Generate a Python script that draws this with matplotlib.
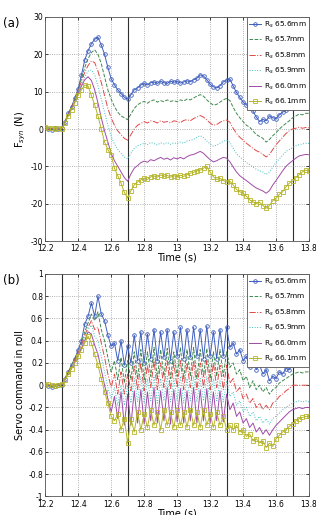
import numpy as np
import matplotlib
matplotlib.use("Agg")
import matplotlib.pyplot as plt

labels = [r"R$_s$ 65.6mm", r"R$_s$ 65.7mm", r"R$_s$ 65.8mm",
          r"R$_s$ 65.9mm", r"R$_s$ 66.0mm", r"R$_s$ 66.1mm"]

# ---- panel (a): F_syn (N), time 12.20 .. 13.80 step 0.02 ----
fa_656 = [0.3, 0.0, -0.2, 0.2, -0.1, 0.2, 2.0, 4.2, 6.0, 8.3, 10.8, 14.5, 18.5, 21.0, 22.8, 24.0, 24.6, 22.5, 20.0, 16.5,
          13.5, 11.8, 10.5, 9.5, 8.5, 8.0, 9.2, 10.5, 11.0, 11.8, 12.2, 11.8, 12.4, 12.6, 12.2, 12.8, 12.4, 12.2, 12.8, 12.5,
          12.8, 12.3, 12.6, 12.9, 12.7, 13.2, 13.6, 14.5, 14.2, 13.2, 12.0, 11.3, 11.0, 11.6, 12.6, 13.2, 13.4, 11.5, 9.8, 8.5,
          7.2, 6.5, 5.5, 4.8, 3.2, 2.0, 2.6, 2.2, 3.5, 3.0, 2.8, 3.8, 4.5, 5.0, 6.2, 6.0, 6.8, 7.2, 6.8, 7.5, 8.2]
fa_657 = [0.0, 0.2, -0.1, 0.1, 0.0, 0.1, 1.8, 4.0, 5.8, 8.0, 10.5, 13.5, 16.5, 18.8, 20.5, 21.2, 20.0, 17.5, 14.0, 10.5,
          8.0, 6.0, 4.5, 3.5, 3.0, 2.5, 4.0, 5.5, 6.5, 7.0, 7.4, 6.9, 7.5, 7.8, 7.2, 7.6, 7.3, 7.8, 7.4, 7.6,
          7.3, 7.8, 7.5, 8.0, 7.8, 8.3, 8.8, 9.2, 8.8, 7.8, 7.0, 6.4, 6.6, 7.2, 7.8, 8.2, 7.6, 5.8, 4.2, 3.0,
          2.0, 1.0, 0.5, -0.5, -1.5, -2.0, -2.5, -3.5, -2.8, -1.8, -1.0, 0.0, 0.8, 1.5, 2.2, 3.0, 3.5, 4.0, 3.8, 4.2, 4.2]
fa_658 = [0.1, -0.1, 0.2, 0.0, 0.1, 0.0, 1.8, 3.9, 5.8, 7.8, 10.2, 12.8, 15.2, 17.0, 18.2, 17.8, 15.5, 12.5, 9.0, 5.5,
          3.0, 1.0, -0.5, -1.5, -2.5, -3.0, -1.5, 0.0, 1.0, 1.5, 2.0, 1.6, 2.2, 2.0, 1.6, 2.2, 1.8, 2.0, 1.6, 2.2,
          2.0, 1.7, 2.3, 2.5, 2.2, 2.8, 3.2, 3.6, 3.2, 2.4, 1.6, 1.0, 1.2, 1.8, 2.2, 2.4, 1.8, 0.2, -1.2, -2.2,
          -3.0, -3.8, -4.5, -5.2, -5.8, -6.2, -6.8, -7.5, -6.8, -5.5, -4.2, -3.2, -2.2, -1.2, -0.5, 0.0, 0.2, 0.5, 0.2, 0.4, 0.3]
fa_659 = [0.0, 0.1, -0.1, 0.1, 0.0, 0.1, 1.8, 3.8, 5.6, 7.6, 9.8, 12.0, 14.0, 15.5, 15.8, 14.5, 11.5, 8.0, 4.5, 1.0,
          -2.0, -4.0, -5.5, -6.5, -7.5, -8.0, -6.5, -5.2, -4.5, -4.2, -3.8, -4.2, -3.6, -3.9, -4.3, -3.7, -4.0, -3.6, -4.1, -3.7,
          -3.9, -3.5, -3.8, -3.2, -3.0, -2.8, -2.2, -1.8, -2.3, -3.2, -4.0, -4.6, -4.3, -3.8, -3.3, -3.0, -3.6, -5.2, -6.6, -7.5,
          -8.2, -9.0, -9.5, -10.2, -10.8, -11.2, -11.5, -12.2, -11.5, -10.2, -9.0, -8.0, -7.0, -6.0, -5.5, -5.0, -4.5, -4.2, -4.0, -3.8, -3.9]
fa_660 = [0.1, 0.0, 0.2, -0.1, 0.1, 0.0, 1.7, 3.7, 5.5, 7.4, 9.5, 11.5, 13.2, 14.0, 13.0, 10.5, 7.0, 3.0, -0.5, -3.5,
          -6.5, -8.5, -10.0, -11.5, -13.0, -14.0, -12.0, -10.5, -9.8, -9.0, -8.6, -8.9, -8.2, -8.5, -8.0, -7.6, -8.1, -7.8, -8.3, -7.7,
          -8.0, -7.6, -8.0, -7.4, -7.0, -6.8, -6.4, -6.0, -6.5, -7.4, -8.2, -8.8, -8.5, -8.0, -7.6, -7.8, -8.8, -10.2, -11.5, -12.5,
          -13.2, -13.8, -14.5, -15.2, -15.8, -16.2, -16.6, -17.2, -16.5, -15.0, -13.8, -12.5, -11.2, -10.0, -9.2, -8.5, -7.8, -7.2, -7.0, -6.8, -6.9]
fa_661 = [0.5, 0.2, 0.4, 0.0, 0.3, 0.1, 1.6, 3.5, 5.2, 7.0, 9.2, 10.5, 11.8, 11.5, 9.0, 6.5, 3.5, 0.0, -3.5, -5.5,
          -7.0, -10.5, -12.5, -14.5, -17.0, -18.5, -16.5, -15.0, -14.2, -13.6, -13.2, -13.5, -12.8, -12.6, -12.9, -12.3, -12.7, -12.4, -12.9, -12.5,
          -12.8, -12.4, -12.7, -12.2, -11.8, -11.6, -11.2, -11.0, -10.5, -10.0, -11.5, -12.8, -13.5, -13.2, -13.8, -14.2, -14.0, -15.0, -16.2, -16.8,
          -17.2, -18.0, -19.0, -19.5, -20.0, -19.6, -20.5, -21.2, -20.5, -19.2, -18.5, -17.5, -16.8, -15.5, -14.5, -14.0, -13.0, -12.2, -11.5, -11.0, -11.2]

# ---- panel (b): servo command in roll ----
fb_656 = [0.0, -0.01, -0.02, -0.01, 0.0, 0.0, 0.06, 0.12, 0.18, 0.24, 0.32, 0.40, 0.55, 0.62, 0.74, 0.62, 0.80, 0.64, 0.58, 0.45,
          0.35, 0.38, 0.22, 0.40, 0.18, 0.35, 0.20, 0.45, 0.22, 0.48, 0.20, 0.46, 0.24, 0.50, 0.22, 0.48, 0.25, 0.50, 0.22, 0.48,
          0.26, 0.52, 0.24, 0.50, 0.25, 0.52, 0.26, 0.50, 0.24, 0.53, 0.26, 0.48, 0.24, 0.50, 0.26, 0.52, 0.34, 0.38, 0.28, 0.32,
          0.22, 0.26, 0.16, 0.22, 0.14, 0.18, 0.10, 0.14, 0.04, 0.08, 0.06, 0.12, 0.10, 0.15, 0.14, 0.18, 0.20, 0.21, 0.20, 0.21, 0.21]
fb_657 = [0.0, 0.0, -0.01, 0.0, 0.01, 0.0, 0.06, 0.12, 0.18, 0.24, 0.30, 0.38, 0.48, 0.56, 0.64, 0.58, 0.66, 0.50, 0.40, 0.25,
          0.12, 0.22, 0.05, 0.25, 0.02, 0.22, 0.05, 0.30, 0.06, 0.32, 0.05, 0.30, 0.08, 0.34, 0.06, 0.32, 0.08, 0.33, 0.06, 0.30,
          0.08, 0.34, 0.06, 0.32, 0.08, 0.34, 0.06, 0.32, 0.08, 0.33, 0.06, 0.30, 0.08, 0.32, 0.08, 0.30, 0.16, 0.20, 0.10, 0.14,
          0.04, 0.08, -0.02, 0.04, -0.04, 0.00, -0.06, -0.02, -0.08, -0.04, -0.02, 0.02, 0.04, 0.06, 0.08, 0.10, 0.11, 0.12, 0.11, 0.12, 0.12]
fb_658 = [0.0, 0.01, 0.0, -0.01, 0.0, 0.0, 0.06, 0.11, 0.17, 0.23, 0.29, 0.36, 0.45, 0.52, 0.58, 0.50, 0.52, 0.38, 0.25, 0.10,
          -0.02, 0.10, -0.08, 0.12, -0.08, 0.10, -0.05, 0.18, -0.04, 0.20, -0.05, 0.18, -0.02, 0.22, -0.04, 0.20, -0.02, 0.22, -0.04, 0.20,
          -0.02, 0.22, -0.04, 0.20, -0.02, 0.22, -0.04, 0.20, -0.02, 0.22, -0.04, 0.20, -0.02, 0.18, -0.04, 0.18, 0.02, 0.06, -0.06, -0.02,
          -0.12, -0.08, -0.16, -0.12, -0.20, -0.16, -0.22, -0.18, -0.22, -0.16, -0.14, -0.10, -0.08, -0.05, -0.03, 0.0, 0.0, 0.0, 0.0, 0.0, 0.0]
fb_659 = [0.0, 0.0, 0.01, 0.0, -0.01, 0.0, 0.05, 0.11, 0.16, 0.22, 0.28, 0.34, 0.42, 0.50, 0.54, 0.44, 0.40, 0.26, 0.12, -0.02,
          -0.12, -0.02, -0.18, 0.00, -0.18, 0.00, -0.16, 0.06, -0.15, 0.08, -0.16, 0.06, -0.14, 0.08, -0.16, 0.06, -0.14, 0.08, -0.15, 0.06,
          -0.14, 0.08, -0.16, 0.06, -0.14, 0.08, -0.15, 0.06, -0.14, 0.08, -0.16, 0.06, -0.14, 0.04, -0.15, 0.04, -0.10, -0.06, -0.18, -0.14,
          -0.24, -0.20, -0.28, -0.24, -0.32, -0.28, -0.34, -0.30, -0.35, -0.30, -0.28, -0.25, -0.22, -0.20, -0.18, -0.16, -0.15, -0.14, -0.15, -0.14, -0.15]
fb_660 = [0.0, 0.0, 0.0, 0.01, 0.0, 0.0, 0.05, 0.10, 0.15, 0.21, 0.27, 0.33, 0.40, 0.48, 0.46, 0.36, 0.28, 0.14, 0.00, -0.12,
          -0.24, -0.10, -0.30, -0.06, -0.36, -0.08, -0.36, -0.05, -0.34, -0.04, -0.35, -0.06, -0.32, -0.02, -0.34, -0.05, -0.32, -0.02, -0.35, -0.04,
          -0.33, -0.03, -0.34, -0.05, -0.32, -0.02, -0.34, -0.04, -0.32, -0.03, -0.34, -0.06, -0.32, -0.05, -0.33, -0.08, -0.22, -0.16, -0.28, -0.24,
          -0.34, -0.30, -0.38, -0.34, -0.42, -0.38, -0.44, -0.40, -0.45, -0.40, -0.36, -0.33, -0.30, -0.27, -0.24, -0.22, -0.21, -0.20, -0.21, -0.20, -0.20]
fb_661 = [0.0, 0.01, 0.0, -0.01, 0.0, 0.01, 0.05, 0.10, 0.15, 0.20, 0.26, 0.32, 0.38, 0.44, 0.38, 0.28, 0.18, 0.06, -0.06, -0.16,
          -0.28, -0.32, -0.26, -0.40, -0.30, -0.52, -0.30, -0.42, -0.24, -0.40, -0.26, -0.38, -0.22, -0.36, -0.24, -0.40, -0.22, -0.36, -0.24, -0.38,
          -0.22, -0.36, -0.24, -0.38, -0.22, -0.36, -0.24, -0.38, -0.22, -0.36, -0.26, -0.38, -0.24, -0.36, -0.28, -0.40, -0.36, -0.40, -0.36, -0.42,
          -0.40, -0.46, -0.44, -0.50, -0.48, -0.52, -0.50, -0.56, -0.52, -0.55, -0.48, -0.45, -0.42, -0.40, -0.37, -0.35, -0.32, -0.30, -0.29, -0.28, -0.28]

time = np.linspace(12.2, 13.8, len(fa_656))
event_times = [12.3, 12.7, 13.3, 13.7]

colors = ["#3f5fbf", "#3f8a4f", "#e04848", "#3fbfbf", "#a04aa8", "#b5b52a"]
styles = [dict(ls="-", marker="o", ms=2.6, mfc="none", mew=0.6),
          dict(ls="--"), dict(ls="-."), dict(ls=":"), dict(ls="-"),
          dict(ls="-", marker="s", ms=2.4, mfc="none", mew=0.6)]

fig = plt.figure(figsize=(3.16, 5.15), dpi=100)
ax1 = fig.add_axes([0.143, 0.532, 0.835, 0.435])
ax2 = fig.add_axes([0.143, 0.036, 0.835, 0.432])

panels = [
    (ax1, [fa_656, fa_657, fa_658, fa_659, fa_660, fa_661], (-30, 30), np.arange(-30, 31, 10),
     [str(v) for v in range(-30, 31, 10)], r"F$_{syn}$ (N)", "(a)"),
    (ax2, [fb_656, fb_657, fb_658, fb_659, fb_660, fb_661], (-1, 1), np.linspace(-1, 1, 11),
     ["-1", "-0.8", "-0.6", "-0.4", "-0.2", "0", "0.2", "0.4", "0.6", "0.8", "1"], "Servo command in roll", "(b)"),
]

xt = [12.2, 12.4, 12.6, 12.8, 13.0, 13.2, 13.4, 13.6, 13.8]
xtl = ["12.2", "12.4", "12.6", "12.8", "13", "13.2", "13.4", "13.6", "13.8"]

for ax, series, ylim, yt, ytl, ylab, tag in panels:
    for t in event_times:
        ax.axvline(t, color="#303030", lw=0.8, zorder=1)
    for s, c, st, lab in zip(series, colors, styles, labels):
        ax.plot(time, s, color=c, lw=0.7, label=lab, zorder=3, **st)
    ax.set_xlim(12.2, 13.8)
    ax.set_ylim(*ylim)
    ax.set_xticks(xt)
    ax.set_xticklabels(xtl)
    ax.set_yticks(yt)
    ax.set_yticklabels(ytl)
    ax.tick_params(labelsize=5.5, direction="in", length=2, width=0.5, top=True, right=True)
    ax.tick_params(axis="x", pad=2.5)
    ax.tick_params(axis="y", pad=1.5)
    ax.grid(True, ls=":", color="#999999", lw=0.6)
    for sp in ax.spines.values():
        sp.set_linewidth(0.6)
        sp.set_color("#555555")
    ax.set_xlabel("Time (s)", fontsize=7, labelpad=-0.5)
    ax.set_ylabel(ylab, fontsize=7, labelpad=2)
    leg = ax.legend(loc="upper right", fontsize=5.3, handlelength=1.6, handletextpad=0.4,
                    borderpad=0.35, labelspacing=0.72, framealpha=1, fancybox=False,
                    borderaxespad=0.0, edgecolor="#555555")
    leg.get_frame().set_linewidth(0.6)
    ax.text(-0.16, 1.0, tag, transform=ax.transAxes, fontsize=8.5, va="top", ha="left")

fig.savefig("out.png", dpi=100)
